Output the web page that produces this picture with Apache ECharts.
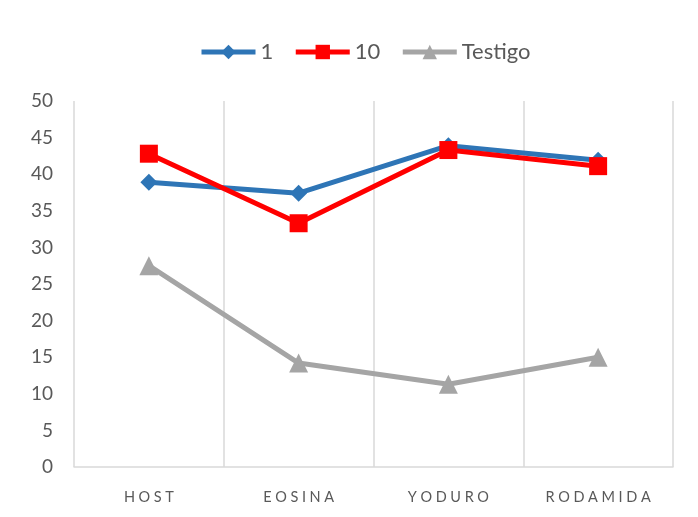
<!DOCTYPE html>
<html>
<head>
<meta charset="utf-8">
<script src="https://cdn.jsdelivr.net/npm/echarts@6/dist/echarts.min.js"></script>
<style>
  html, body { margin: 0; padding: 0; background: #fff; }
  #chart { width: 698px; height: 517px; }
</style>
</head>
<body>
<div id="chart"></div>
<script>
// categorias y valores
var categorias = ['HOST', 'EOSINA', 'YODURO', 'RODAMIDA'];
var serie1 = [38.9, 37.4, 43.9, 41.9];
var serie10 = [42.8, 33.3, 43.3, 41.1];
var testigo = [27.5, 14.2, 11.3, 15.0];
var yTicks = { min: 0, max: 50, interval: 5 };

var gris = '#595959';
var chart = echarts.init(document.getElementById('chart'));

var option = {
  animation: false,
  textStyle: { fontFamily: 'Lato, "Liberation Sans", sans-serif' },
  legend: {
    top: 36,
    left: 194,
    itemWidth: 54,
    itemHeight: 18,
    itemGap: 20,
    lineStyle: { width: 5 },
    textStyle: { fontSize: 22, color: gris },
    data: ['1', '10', 'Testigo']
  },
  grid: { left: 74, right: 25, top: 101, bottom: 50 },
  xAxis: {
    type: 'category',
    data: categorias,
    boundaryGap: true,
    axisLine: { lineStyle: { color: '#D9D9D9', width: 1.5 } },
    axisTick: { show: false },
    splitLine: { show: true, lineStyle: { color: '#D9D9D9', width: 1.5 } },
    axisLabel: {
      color: gris,
      fontSize: 14.5,
      margin: 23,
      formatter: function (v) { return v.split('').join('\u2009\u2009'); }
    }
  },
  yAxis: {
    type: 'value',
    min: yTicks.min,
    max: yTicks.max,
    interval: yTicks.interval,
    axisLine: { show: false },
    axisTick: { show: false },
    splitLine: { show: false },
    axisLabel: { color: gris, fontSize: 19, margin: 21 }
  },
  series: [
    {
      name: '1', type: 'line', data: serie1,
      symbol: 'diamond', symbolSize: 17,
      lineStyle: { color: '#2E75B6', width: 5 },
      itemStyle: { color: '#2E75B6' }
    },
    {
      name: '10', type: 'line', data: serie10,
      symbol: 'rect', symbolSize: 18,
      lineStyle: { color: '#FF0000', width: 5 },
      itemStyle: { color: '#FF0000' }
    },
    {
      name: 'Testigo', type: 'line', data: testigo,
      symbol: 'triangle', symbolSize: 19,
      lineStyle: { color: '#A5A5A5', width: 5 },
      itemStyle: { color: '#A5A5A5' }
    }
  ]
};

chart.setOption(option);
</script>
</body>
</html>
